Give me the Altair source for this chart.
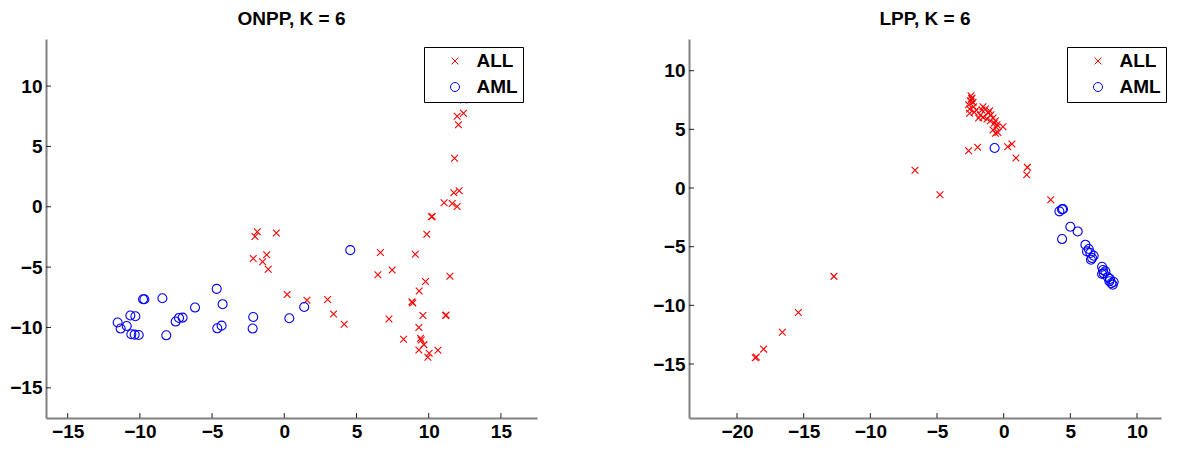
import altair as alt
import pandas as pd

FONT = "Liberation Sans"
XPATH = "M-0.75,-0.75L0.75,0.75M-0.75,0.75L0.75,-0.75"
CLASSES = ["ALL", "AML"]
COLORS = ["#ff0000", "#0000ff"]

# ---------------- ONPP panel ----------------
onpp_title = "ONPP, K = 6"
onpp_all_x = [11.97, 12.41, 12.06, 12.41, 11.79, 11.74, 12.11, 11.07, 11.63, 11.97, 10.24, 10.19, 9.87,
              6.66, 9.07, 7.47, 6.48, 11.47, 9.78, 9.34, 0.20, 1.57, 3.00, 8.84, 8.90, 3.41, 7.25,
              9.60, 11.17, 11.21, 4.15, 9.32, 8.26, 9.44, 9.48, 9.67, 9.32, 10.64, 10.03, 9.94,
              -1.87, -2.03, -0.55, -2.15, -1.22, -1.50, -1.11]
onpp_all_y = [7.50, 7.75, 6.80, 8.85, 4.02, 1.16, 1.33, 0.33, 0.28, 0.03, -0.80, -0.83, -2.27,
              -3.78, -3.93, -5.23, -5.64, -5.75, -6.19, -6.97, -7.27, -7.74, -7.69, -7.88, -7.97, -8.88, -9.29,
              -9.01, -9.01, -8.96, -9.73, -10.01, -10.98, -10.90, -11.04, -11.42, -11.87, -11.89, -12.14, -12.47,
              -2.07, -2.46, -2.18, -4.28, -3.98, -4.56, -5.17]
onpp_aml_x = [-11.54, -11.33, -10.91, -10.66, -10.31, -10.59, -10.36, -10.08, -9.78, -9.69, -8.44, -8.17,
              -7.52, -7.29, -7.04, -6.18, -4.68, -4.27, -4.64, -4.34, -2.15, -2.19, 0.35, 1.38, 4.57]
onpp_aml_y = [-9.59, -10.09, -9.88, -9.01, -9.07, -10.56, -10.59, -10.62, -7.66, -7.66, -7.58, -10.65,
              -9.51, -9.21, -9.18, -8.35, -6.80, -8.07, -10.07, -9.85, -9.13, -10.09, -9.24, -8.30, -3.59]
onpp_xdom = [-16.5, 17.5]
onpp_ydom = [-17.5, 13.9]
onpp_xticks = [-15, -10, -5, 0, 5, 10, 15]
onpp_yticks = [-15, -10, -5, 0, 5, 10]

# ---------------- LPP panel ----------------
lpp_title = "LPP, K = 6"
lpp_all_x = [-18.63, -18.55, -18.00, -16.60, -15.40, -12.73, -6.65, -4.78,
             -2.63, -1.95, 0.30, 0.62, 0.92, 1.78, 1.73, 3.53,
             -2.45, -2.38, -2.50, -2.30, -2.63, -2.25, -2.55, -2.05, -2.55, -1.55, -1.37, -1.63, -1.05,
             -1.88, -1.55, -1.25, -0.95, -0.80, -0.62, -1.00, -0.50, -0.55, -0.05, -0.80, -0.43, -0.62,
             -2.40, -2.20, -1.75, -0.70, -1.15]
lpp_all_y = [-14.47, -14.40, -13.73, -12.30, -10.60, -7.53, 1.51, -0.57,
             3.18, 3.47, 3.52, 3.75, 2.56, 1.76, 1.13, -1.00,
             7.87, 7.67, 7.44, 7.30, 7.10, 6.93, 6.73, 6.65, 6.37, 6.93, 6.73, 6.65, 6.59,
             5.97, 6.02, 5.88, 6.25, 5.97, 5.74, 5.74, 5.40, 5.17, 5.23, 4.94, 4.74, 4.66,
             7.60, 6.45, 6.20, 5.55, 6.40]
lpp_aml_x = [-0.68, 4.18, 4.38, 4.45, 5.00, 5.55, 4.38, 6.13, 6.25, 6.50, 6.75, 6.55, 6.63,
             7.38, 7.45, 7.50, 7.38, 7.82, 7.93, 8.08, 8.18, 7.98, 8.25, 7.63, 6.38]
lpp_aml_y = [3.41, -1.99, -1.82, -1.79, -3.30, -3.70, -4.35, -4.83, -5.40, -5.54, -5.77, -6.11, -5.97,
             -6.71, -6.99, -7.27, -7.33, -7.61, -7.95, -8.12, -8.24, -7.76, -8.01, -7.10, -5.20]
lpp_xdom = [-23.6, 11.8]
lpp_ydom = [-19.6, 12.7]
lpp_xticks = [-20, -15, -10, -5, 0, 5, 10]
lpp_yticks = [-15, -10, -5, 0, 5, 10]

H = 379


def panel(title, ax, ay, mx, my, xdom, ydom, xticks, yticks, width):
    pts = pd.DataFrame({
        "x": ax + mx,
        "y": ay + my,
        "cls": ["ALL"] * len(ax) + ["AML"] * len(mx),
    })
    xs = alt.Scale(domain=xdom, nice=False, zero=False)
    ys = alt.Scale(domain=ydom, nice=False, zero=False)
    xaxis = alt.Axis(values=xticks, title=None)
    yaxis = alt.Axis(values=yticks, title=None)
    leg = alt.Legend(
        title=None, orient="none", legendX=378, legendY=8,
        fillColor="white", strokeColor="black", padding=4.5, rowPadding=6,
        labelFont=FONT, labelFontSize=19, labelFontWeight="bold", labelColor="black",
        symbolSize=81, symbolStrokeWidth=1, symbolOffset=17, labelOffset=12,
    )
    points = alt.Chart(pts).mark_point(filled=False, size=81, strokeWidth=1.1, opacity=1).encode(
        x=alt.X("x:Q", scale=xs, axis=xaxis),
        y=alt.Y("y:Q", scale=ys, axis=yaxis),
        color=alt.Color("cls:N", scale=alt.Scale(domain=CLASSES, range=COLORS), legend=leg),
        shape=alt.Shape("cls:N", scale=alt.Scale(domain=CLASSES, range=[XPATH, "circle"]), legend=leg),
    )
    xt = alt.Chart(pd.DataFrame({"t": xticks})).mark_rule(color="#222", strokeWidth=1).encode(
        x=alt.X("t:Q", scale=xs, axis=xaxis),
        y=alt.value(H), y2=alt.value(H - 5),
    )
    yt = alt.Chart(pd.DataFrame({"t": yticks})).mark_rule(color="#222", strokeWidth=1).encode(
        y=alt.Y("t:Q", scale=ys, axis=yaxis),
        x=alt.value(0), x2=alt.value(5),
    )
    return alt.layer(points, xt, yt).properties(
        width=width, height=H,
        title=alt.TitleParams(title, font=FONT, fontSize=19, fontWeight="bold", color="black",
                              anchor="middle", offset=10),
    )


left = panel(onpp_title, onpp_all_x, onpp_all_y, onpp_aml_x, onpp_aml_y,
             onpp_xdom, onpp_ydom, onpp_xticks, onpp_yticks, 491)
right = panel(lpp_title, lpp_all_x, lpp_all_y, lpp_aml_x, lpp_aml_y,
              lpp_xdom, lpp_ydom, lpp_xticks, lpp_yticks, 472)

chart = alt.hconcat(left, right, spacing=115).resolve_scale(
    x="independent", y="independent", color="independent", shape="independent"
).properties(
    padding={"left": 1, "top": 2, "right": 0, "bottom": 2},
    background="white",
).configure_view(strokeWidth=0).configure_axis(
    labelFont=FONT, labelFontSize=19, labelFontWeight="bold", labelColor="black",
    domainColor="#808080", domainWidth=2, ticks=False, tickSize=0, grid=False, labelPadding=4,
)

chart.save("out.html", embed_options={"renderer": "svg", "actions": False})
